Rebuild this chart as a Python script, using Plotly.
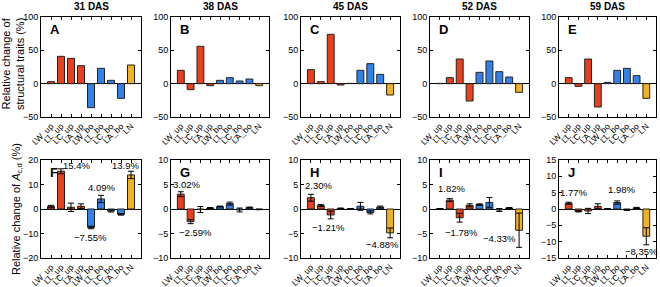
import plotly.graph_objects as go

categories = ["LW_up", "LL_up", "LC_up", "LA_up", "LW_bo", "LL_bo", "LC_bo", "LA_bo", "LN"]
days = ["31 DAS", "38 DAS", "45 DAS", "52 DAS", "59 DAS"]
letters_top = ["A", "B", "C", "D", "E"]
letters_bot = ["F", "G", "H", "I", "J"]

struct_31 = [3, 41, 38, 27, -36, 23, 5, -22, 28]
struct_38 = [20, -9, 56, -3, 5, 9, 4, 7, -3]
struct_45 = [21, 3, 74, -2, 0.5, 20, 30, 14, -17]
struct_52 = [0.5, 9, 37, -26, 17, 34, 18, 10, -13]
struct_59 = [9, -4, 37, -35, 2, 20, 23, 12, -22]

acd_31 = [1.1, 15.4, 0.7, 1.1, -7.55, 4.09, -0.8, -2.2, 13.9]
err_31 = [0.4, 1.0, 1.7, 1.0, 0.5, 1.5, 0.4, 0.3, 1.5]
acd_38 = [3.02, -2.59, -0.1, 0.2, 0.5, 1.1, -0.2, 0.3, -0.1]
err_38 = [0.5, 0.4, 0.6, 0.1, 0.1, 0.3, 0.4, 0.1, 0.05]
acd_45 = [2.30, 0.7, -1.21, 0.1, 0.05, 0.55, -0.7, 0.4, -4.88]
err_45 = [0.7, 0.2, 0.8, 0.1, 0.05, 0.8, 0.3, 0.2, 1.0]
acd_52 = [0.05, 1.82, -1.78, 0.75, 0.9, 1.35, -0.2, 0.2, -4.33]
err_52 = [0.0, 0.3, 0.9, 0.3, 0.15, 1.0, 0.3, 0.1, 3.5]
acd_59 = [1.77, -0.7, -0.6, 0.8, 0.1, 1.98, -0.3, 0.3, -8.35]
err_59 = [0.3, 0.2, 0.8, 0.8, 0.05, 0.5, 0.1, 0.2, 2.6]

# value labels: (text, x position in category units, y position)
labels_31 = [("15.4%", 2.5, 17.6), ("13.9%", 7.4, 17.6), ("4.09%", 5.0, 8.6), ("\u22127.55%", 3.9, -11.8)]
labels_38 = [("3.02%", 0.55, 4.9), ("\u22122.59%", 1.5, -4.7)]
labels_45 = [("2.30%", 0.75, 4.7), ("\u22121.21%", 1.75, -3.7), ("\u22124.88%", 7.2, -7.3)]
labels_52 = [("1.82%", 1.15, 4.1), ("\u22121.78%", 2.2, -4.7), ("\u22124.33%", 6.0, -6.1)]
labels_59 = [("1.77%", 0.45, 4.9), ("1.98%", 5.4, 6.1), ("\u22128.35%", 7.5, -12.9)]

struct_all = [struct_31, struct_38, struct_45, struct_52, struct_59]
acd_all = [acd_31, acd_38, acd_45, acd_52, acd_59]
err_all = [err_31, err_38, err_45, err_52, err_59]
labels_all = [labels_31, labels_38, labels_45, labels_52, labels_59]
bot_ranges = [[-20, 20], [-10, 10], [-10, 10], [-10, 10], [-15, 15]]
bot_dticks = [10, 5, 5, 5, 5]

RED = "#E8401C"
BLUE = "#3380E6"
YEL = "#F2B11E"
colors = [RED] * 4 + [BLUE] * 4 + [YEL]

W, H = 660, 287
xpix = [(41, 141), (171, 269), (301, 400), (430, 529), (559, 656)]
top_y = (17, 117)
bot_y = (160, 258)
FONT = "Arial, Liberation Sans, Helvetica, sans-serif"

fig = go.Figure()
layout = dict(
    width=W, height=H, margin=dict(l=0, r=0, t=0, b=0, autoexpand=False),
    paper_bgcolor="white", plot_bgcolor="white", showlegend=False,
    font=dict(family=FONT, size=9, color="black"), bargap=0.3,
)
annotations = []
xs = list(range(len(categories)))

def axis_common():
    return dict(showline=True, linecolor="black", linewidth=1, mirror="ticks",
                ticks="inside", ticklen=3, tickcolor="black", showgrid=False,
                automargin=False,
                tickfont=dict(family=FONT, size=9, color="black"))

for i in range(5):
    for row in range(2):
        k = i + 1 + row * 5
        xa = "x" if k == 1 else f"x{k}"
        ya = "y" if k == 1 else f"y{k}"
        if row == 0:
            yvals = struct_all[i]
            err = None
            ypx = top_y
        else:
            yvals = acd_all[i]
            err = dict(type="data", array=err_all[i], visible=True, color="black",
                       thickness=1, width=3)
            ypx = bot_y
        fig.add_trace(go.Bar(x=xs, y=yvals, xaxis=xa, yaxis=ya, width=0.7,
                             marker=dict(color=colors, line=dict(color="#222222", width=1)),
                             error_y=err, hoverinfo="skip"))
        xd = [xpix[i][0] / W, xpix[i][1] / W]
        yd = [(H - ypx[1]) / H, (H - ypx[0]) / H]
        xax = axis_common()
        xax.update(domain=xd, anchor=ya, range=[-1, 9], tickmode="array",
                   tickvals=xs, ticktext=categories, tickangle=-45, zeroline=False,
                   tickfont=dict(family=FONT, size=8.5, color="black"))
        yax = axis_common()
        if row == 0:
            yax.update(range=[-50, 100], tickvals=[-50, 0, 50, 100])
        else:
            yax.update(range=bot_ranges[i], dtick=bot_dticks[i], tick0=0)
        yax.update(domain=yd, anchor=xa, zeroline=True, zerolinecolor="black",
                   zerolinewidth=1)
        layout["xaxis" if k == 1 else f"xaxis{k}"] = xax
        layout["yaxis" if k == 1 else f"yaxis{k}"] = yax

        letter = letters_top[i] if row == 0 else letters_bot[i]
        annotations.append(dict(text=f"<b>{letter}</b>", xref=f"{xa} domain", yref=f"{ya} domain",
                                x=0.07, y=0.87, xanchor="left", yanchor="middle",
                                showarrow=False, font=dict(size=13, family=FONT)))
        if row == 1:
            for (t, lx, ly) in labels_all[i]:
                annotations.append(dict(text=t, xref=xa, yref=ya, x=lx, y=ly,
                                        showarrow=False, font=dict(size=9.5, family=FONT)))

    annotations.append(dict(text=f"<b>{days[i]}</b>", xref="paper", yref="paper",
                            x=(xpix[i][0] + xpix[i][1]) / 2 / W, y=(H - 6) / H,
                            xanchor="center", yanchor="middle", showarrow=False,
                            font=dict(size=10, family=FONT)))

annotations.append(dict(text="Relative change of<br>structural traits (%)", xref="paper", yref="paper",
                        x=13 / W, y=(H - 64) / H, textangle=-90, showarrow=False,
                        xanchor="center", yanchor="middle",
                        font=dict(size=11, family=FONT)))
annotations.append(dict(text="Relative change of <i>A</i><sub>c,d</sub> (%)", xref="paper", yref="paper",
                        x=17 / W, y=(H - 209) / H, textangle=-90, showarrow=False,
                        xanchor="center", yanchor="middle",
                        font=dict(size=11, family=FONT)))

layout["annotations"] = annotations
fig.update_layout(**layout)
fig.write_html(
    "out.html",
    config={"displayModeBar": False},
    post_script="document.body.style.margin='0';document.body.style.padding='0';"
                "document.body.style.overflow='hidden';",
)
